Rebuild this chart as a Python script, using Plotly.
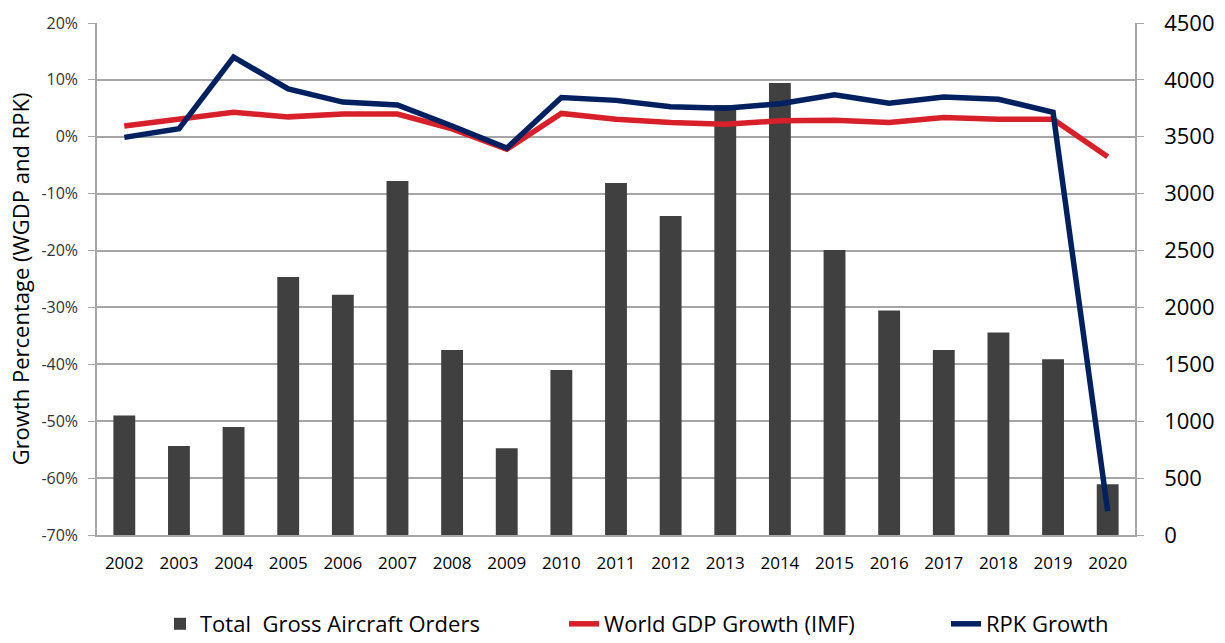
import plotly.graph_objects as go

years = [str(y) for y in range(2002, 2021)]
orders = [1050, 782, 950, 2267, 2112, 3111, 1627, 762, 1451, 3094, 2804, 3780, 3973, 2505, 1974, 1627, 1780, 1545, 447]
gdp = [1.9, 3.1, 4.3, 3.5, 4.0, 4.0, 1.4, -2.2, 4.1, 3.1, 2.5, 2.2, 2.8, 2.9, 2.5, 3.4, 3.1, 3.1, -3.5]
rpk = [-0.1, 1.4, 14.0, 8.4, 6.1, 5.6, 1.9, -2.0, 6.9, 6.4, 5.3, 5.0, 5.8, 7.4, 5.9, 7.0, 6.6, 4.3, -65.8]

left_ticks = list(range(-70, 21, 10))
left_text = [f"{v}%" for v in left_ticks]
right_ticks = list(range(0, 4501, 500))

grid = "#A6A6A6"
W, H = 1225, 643
fig = go.Figure()
fig.add_trace(go.Bar(x=years, y=orders, name="Total  Gross Aircraft Orders", legend="legend",
                     marker=dict(color="#404040", line=dict(width=0)), yaxis="y", width=0.4))
fig.add_trace(go.Scatter(x=years, y=gdp, name="World GDP Growth (IMF)", mode="lines", legend="legend2",
                         line=dict(color="#D7202A", width=5.5), yaxis="y2"))
fig.add_trace(go.Scatter(x=years, y=rpk, name="RPK Growth", mode="lines", legend="legend3",
                         line=dict(color="#002060", width=5.5), yaxis="y2"))

leg_font = dict(family="Open Sans", size=22, color="#000")
def leg(px):
    return dict(orientation="h", xref="container", x=px / W, xanchor="left",
                yref="container", y=(H - 624) / H, yanchor="middle",
                font=leg_font, itemwidth=30, bgcolor="rgba(0,0,0,0)")

fig.update_layout(
    width=W, height=H,
    margin=dict(l=97, r=90, t=23, b=108, autoexpand=False),
    paper_bgcolor="white", plot_bgcolor="white",
    font=dict(family="Open Sans", color="#000"),
    xaxis=dict(type="category", showgrid=False, showline=True, linecolor=grid, linewidth=1.5,
               ticks="", tickfont=dict(size=17, color="#000"), ticklabelstandoff=12),
    yaxis=dict(side="right", range=[0, 4500], tickvals=right_ticks, showgrid=False,
               zeroline=False, showline=True, linecolor=grid, linewidth=1.5,
               ticks="outside", ticklen=7, tickcolor=grid,
               tickfont=dict(size=22, color="#000"), ticklabelstandoff=16),
    yaxis2=dict(side="left", overlaying="y", range=[-70, 20], tickvals=left_ticks, ticktext=left_text,
                showgrid=True, gridcolor=grid, gridwidth=1.5,
                zeroline=False, showline=True, linecolor=grid, linewidth=1.5,
                ticks="outside", ticklen=7, tickcolor=grid,
                tickfont=dict(size=16, color="#333"), ticklabelstandoff=7,
                title=dict(text="Growth Percentage (WGDP and RPK)", font=dict(size=22, color="#000"), standoff=6)),
    legend=leg(160),
    legend2=leg(564),
    legend3=leg(946),
    showlegend=True,
)

fig.write_html("out.html")
